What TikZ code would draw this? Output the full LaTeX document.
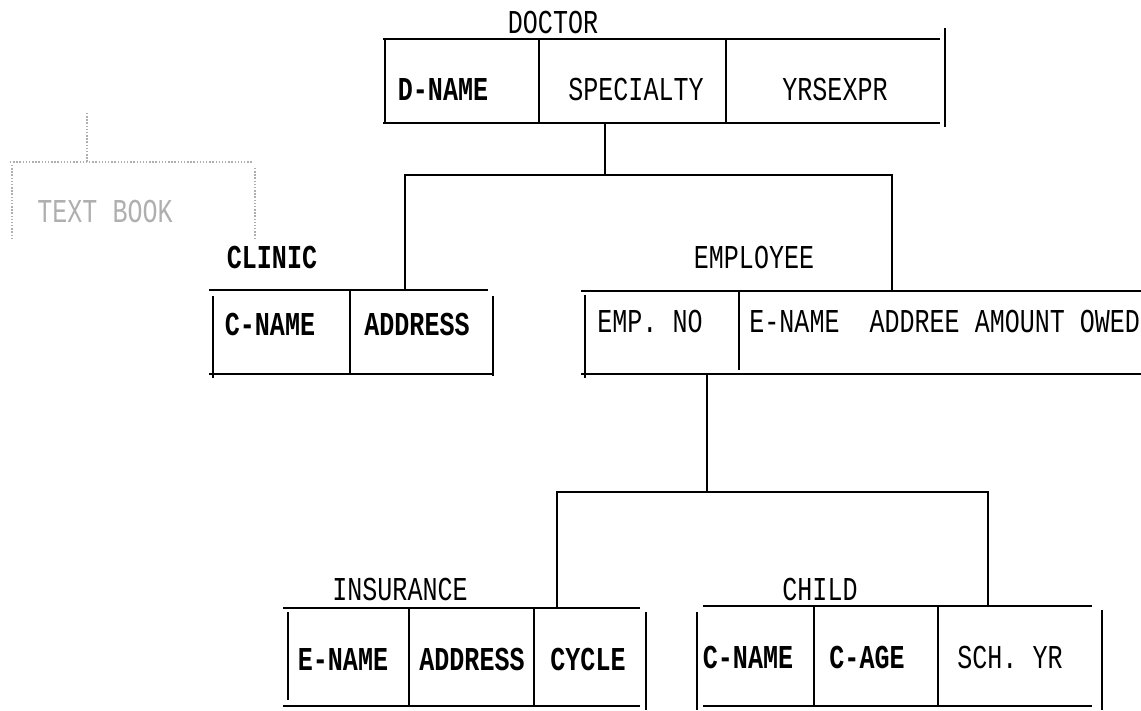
\documentclass[tikz,border=0pt]{standalone}
\usepackage{fontspec}
\usepackage{tikz}
\newfontfamily\recfont[FakeStretch=0.75]{Liberation Mono}
\definecolor{bleed}{RGB}{175,175,175}

\begin{document}
\begin{tikzpicture}[x=0.02cm, y=-0.02cm, line width=1.6pt,
  fld/.style={font=\recfont\fontsize{19}{22}\selectfont, inner sep=0pt, anchor=base},
  hvy/.style={font=\recfont\bfseries\fontsize{19}{22}\selectfont, inner sep=0pt, anchor=base}]
\useasboundingbox (0,0) rectangle (1141,710);
\begin{scope}[bleed, line width=0.8pt, densely dotted]
\draw (10,162) -- (252,162);
\draw (12,165) -- (12,240);
\draw (255,168) -- (255,240);
\draw (87,113) -- (87,162);
\end{scope}
\node[fld, text=bleed] (textbook) at (105,222) {TEXT BOOK};
\node[fld] (doctor) at (553,33) {DOCTOR};
\draw (383,39) -- (940,39);
\draw (383,123) -- (940,123);
\foreach \x in {385,539,726}{
\draw (\x,39) -- (\x,123);
}
\draw (945,28) -- (945,127);
\node[hvy] (dname) at (443,100) {D-NAME};
\node[fld] (specialty) at (636,100) {SPECIALTY};
\node[fld] (yrsexpr) at (835,100) {YRSEXPR};
\node[hvy] (clinic) at (272,268) {CLINIC};
\draw (209,290) -- (488,290);
\draw (209,374) -- (493,374);
\draw (213,296) -- (213,378);
\draw (350,290) -- (350,374);
\draw (493,296) -- (493,376);
\node[hvy] (cname) at (270,335) {C-NAME};
\node[hvy] (caddress) at (417,335) {ADDRESS};
\node[fld] (employee) at (754,268) {EMPLOYEE};
\draw (581,291) -- (1141,291);
\draw (581,374) -- (1141,374);
\draw (585,295) -- (585,378);
\draw (739,291) -- (739,370);
\node[fld] (empno) at (650,332) {EMP. NO};
\node[fld, anchor=base west] (erest) at (748,332) {E-NAME\ \ ADDREE AMOUNT OWED};
\coordinate (docfoot) at (605,123);
\coordinate (splitA) at (605,175);
\coordinate (clinictop) at (405,290);
\coordinate (emptop) at (892,291);
\draw (docfoot) -- (splitA);
\draw (clinictop) |- (splitA) -| (emptop);
\coordinate (empfoot) at (707,374);
\coordinate (splitB) at (707,492);
\coordinate (instop) at (557,607);
\coordinate (childtop) at (988,606);
\draw (empfoot) -- (splitB);
\draw (instop) |- (splitB) -| (childtop);
\node[fld] (insurance) at (400,600) {INSURANCE};
\draw (283,608) -- (640,608);
\draw (283,706) -- (640,706);
\draw (288,612) -- (288,700);
\foreach \x in {409,534}{
\draw (\x,607) -- (\x,706);
}
\draw (646,612) -- (646,710);
\node[hvy] (iname) at (343,670) {E-NAME};
\node[hvy] (iaddress) at (472,670) {ADDRESS};
\node[hvy] (icycle) at (588,670) {CYCLE};
\node[fld] (child) at (820,600) {CHILD};
\draw (703,606) -- (1092,606);
\draw (703,706) -- (1092,706);
\draw (697,612) -- (697,710);
\foreach \x in {814,938}{
\draw (\x,606) -- (\x,706);
}
\draw (1102,610) -- (1102,710);
\node[hvy] (kname) at (748,668) {C-NAME};
\node[hvy] (kage) at (867,668) {C-AGE};
\node[fld] (kschyr) at (1010,668) {SCH. YR};
\end{tikzpicture}
\end{document}
